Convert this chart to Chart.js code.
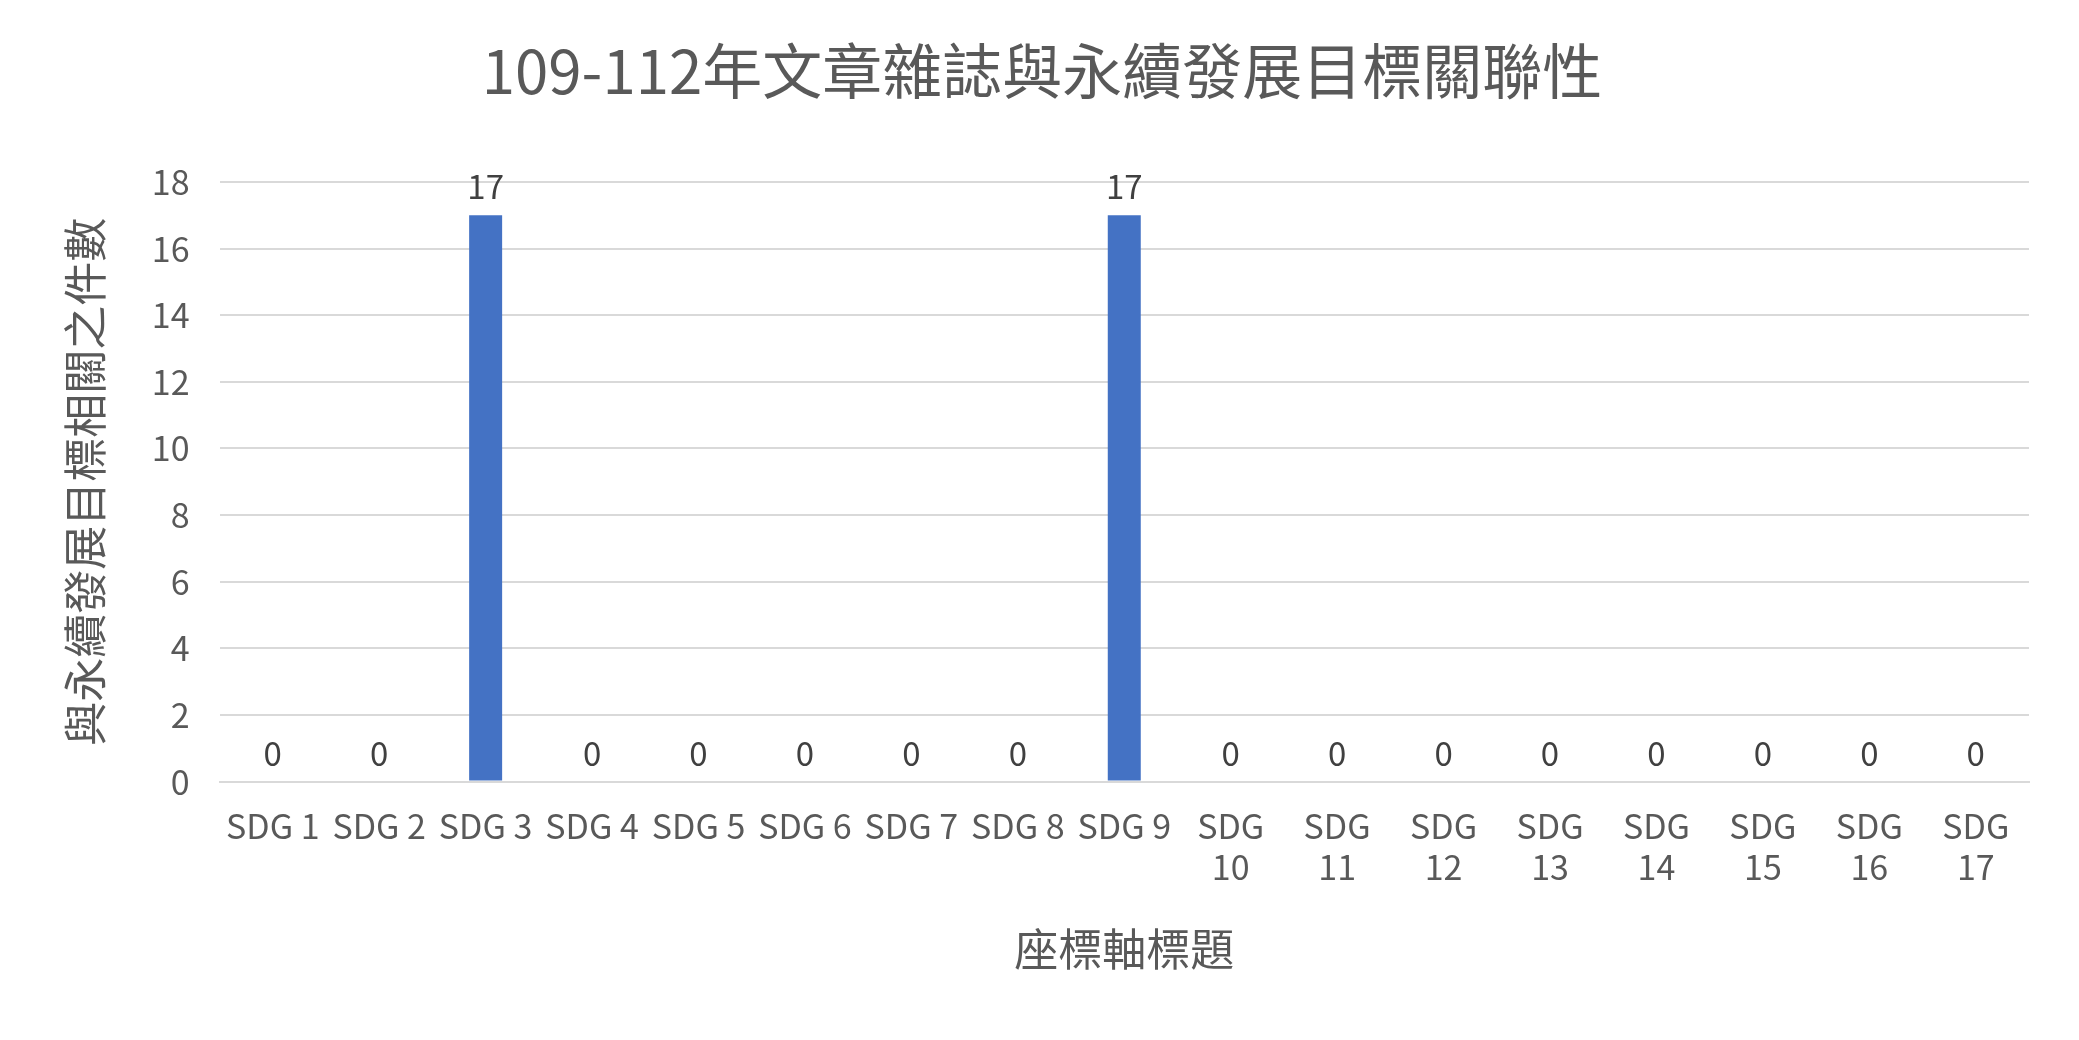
<!DOCTYPE html>
<html lang="zh-Hant">
<head>
    <meta charset="UTF-8">
    <title>SDG</title>
    <style>
        html, body { margin: 0; padding: 0; background: #fff; }
        .wrap { width: 2079px; height: 1040px; }
    </style>
</head>
<body>
    <div class="wrap"><canvas id="myChart"></canvas></div>
</body>
</html>
<script src="https://cdn.jsdelivr.net/npm/chart.js/dist/chart.umd.min.js"></script>
<script>
    const categorias = ['SDG 1', 'SDG 2', 'SDG 3', 'SDG 4', 'SDG 5', 'SDG 6', 'SDG 7', 'SDG 8', 'SDG 9',
        ['SDG', '10'], ['SDG', '11'], ['SDG', '12'], ['SDG', '13'], ['SDG', '14'], ['SDG', '15'], ['SDG', '16'], ['SDG', '17']];
    const valores = [0, 0, 17, 0, 0, 0, 0, 0, 17, 0, 0, 0, 0, 0, 0, 0, 0];
    const titulo = '109-112年文章雜誌與永續發展目標關聯性';
    const tituloY = '與永續發展目標相關之件數';
    const tituloX = '座標軸標題';

    const fonte = '"Noto Sans CJK TC", "Open Sans", sans-serif';
    const cinza = '#595959';

    // desenha os valores em cima das barras
    const rotulos = {
        id: 'rotulos',
        afterDatasetsDraw(chart) {
            const c = chart.ctx;
            const meta = chart.getDatasetMeta(0);
            c.save();
            c.fillStyle = '#404040';
            c.font = '33px ' + fonte;
            c.textAlign = 'center';
            c.textBaseline = 'bottom';
            meta.data.forEach((bar, i) => {
                c.fillText(String(valores[i]), bar.x, bar.y - 12);
            });
            c.restore();
        }
    };

    new Chart(document.getElementById('myChart'), {
        type: 'bar',
        data: {
            labels: categorias,
            datasets: [{
                data: valores,
                backgroundColor: '#4472C4',
                categoryPercentage: 1,
                barPercentage: 0.31
            }]
        },
        options: {
            responsive: true,
            maintainAspectRatio: false,
            animation: false,
            layout: { padding: { left: 55, right: 50, top: 35, bottom: 60 } },
            plugins: {
                legend: { display: false },
                tooltip: { enabled: false },
                title: {
                    display: true,
                    text: titulo,
                    color: cinza,
                    font: { family: fonte, size: 60, weight: 'normal' },
                    padding: { top: 0, bottom: 75 }
                }
            },
            scales: {
                x: {
                    grid: { display: false },
                    border: { color: '#d9d9d9', width: 2 },
                    ticks: { color: cinza, font: { family: fonte, size: 34 }, maxRotation: 0, autoSkip: false, padding: 16 },
                    title: { display: true, text: tituloX, color: cinza, font: { family: fonte, size: 44 }, padding: { top: 20 } }
                },
                y: {
                    min: 0,
                    max: 18,
                    ticks: { stepSize: 2, color: cinza, font: { family: fonte, size: 34 }, padding: 30 },
                    grid: { color: '#d9d9d9', lineWidth: 2, drawTicks: false },
                    border: { display: false },
                    title: { display: true, text: tituloY, color: cinza, font: { family: fonte, size: 44 }, padding: { bottom: 10 } }
                }
            }
        },
        plugins: [rotulos]
    });
</script>
